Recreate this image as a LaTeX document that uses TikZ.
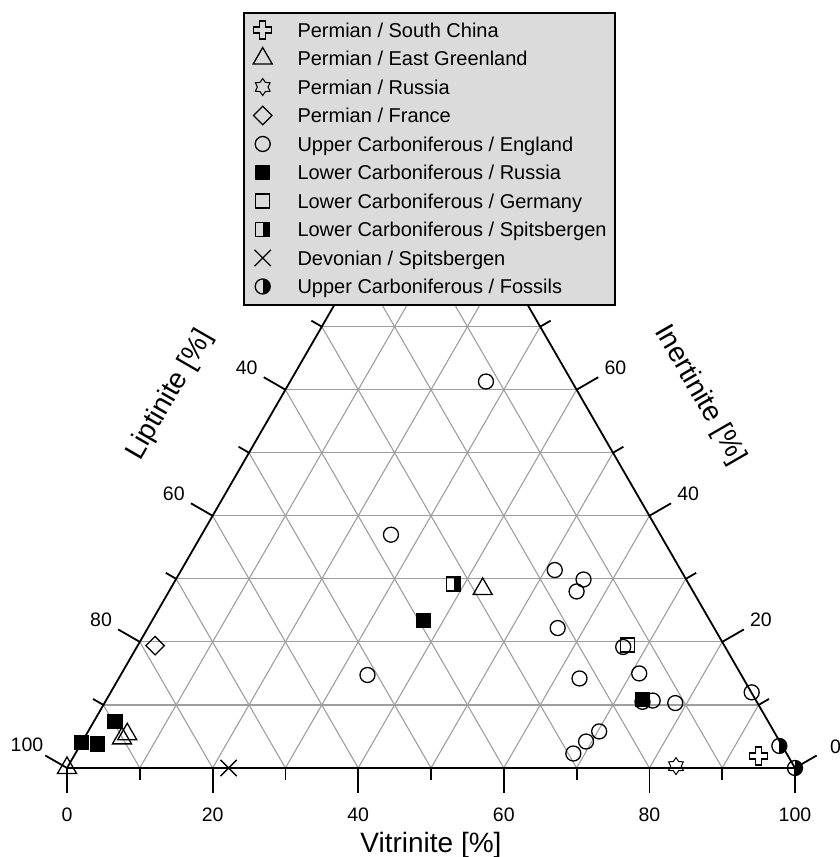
\documentclass[tikz,border=0pt]{standalone}
\usepackage{fontspec}
\setmainfont{Liberation Sans}
\usetikzlibrary{shapes.geometric,shapes.misc}
\begin{document}
\begin{tikzpicture}[x=1pt,y=1pt,line cap=butt,line join=miter]
\tikzset{declare function={tx(\v,\i)=7.28*\v+3.64*\i;ty(\i)=6.3047*\i;},
mk/.style={draw=black,line width=1.3pt,inner sep=0pt},
circ/.style={mk,circle,minimum size=15pt},
sqr/.style={mk,rectangle,minimum size=14pt},
fsqr/.style={sqr,fill=black},
halfsqr/.style={sqr,path picture={\fill (path picture bounding box.north) rectangle (path picture bounding box.south east);}},
halfcirc/.style={circ,path picture={\fill (path picture bounding box.north) rectangle (path picture bounding box.south east);}},
tri/.style={mk,regular polygon,regular polygon sides=3,minimum size=22pt},
dia/.style={mk,diamond,minimum size=19pt},
starmk/.style={mk,star,star points=6,star point ratio=1.6,minimum size=17pt,line width=1pt},
xmk/.style={mk,cross out,minimum size=15pt},
plusmk/.pic={\draw[line width=1.2pt] (-3,-9)--(3,-9)--(3,-3)--(9,-3)--(9,3)--(3,3)--(3,9)--(-3,9)--(-3,3)--(-9,3)--(-9,-3)--(-3,-3)--cycle;},
gridline/.style={black!38,line width=1.1pt},
axis/.style={black,line width=1.8pt},
ticklab/.style={font=\fontsize{19.5}{22}\selectfont,inner sep=0pt},
axtitle/.style={font=\fontsize{28}{32}\selectfont,inner sep=0pt},
legtext/.style={font=\fontsize{20}{24}\selectfont,anchor=base west,inner sep=0pt}
}
\useasboundingbox (-67,-89) rectangle (772,768);
\coordinate (L) at (0,0);
\coordinate (V) at ({tx(100,0)},0);
\coordinate (I) at ({tx(0,100)},{ty(100)});
\foreach \k in {1,...,9}{
  \draw[gridline] ({tx(0,10*\k)},{ty(10*\k)}) -- ({tx(100-10*\k,10*\k)},{ty(10*\k)});
  \draw[gridline] ({tx(10*\k,0)},0) -- ({tx(10*\k,100-10*\k)},{ty(100-10*\k)});
  \draw[gridline] ({tx(10*\k,0)},0) -- ({tx(0,10*\k)},{ty(10*\k)});
}
\draw[axis,line join=round] (L)--(V)--(I)--cycle;
\foreach \k in {0,...,10}{
  \pgfmathsetmacro\len{mod(\k,2)==0 ? 25 : 12}
  \draw[axis] ({tx(10*\k,0)},0) -- ++(0,-\len);
  \draw[axis] ({tx(0,10*\k)},{ty(10*\k)}) -- ++(150:\len);
  \draw[axis] ({tx(100-10*\k,10*\k)},{ty(10*\k)}) -- ++(30:\len);
}
\foreach \k in {0,2,...,10}{
  \pgfmathtruncatemacro\lab{10*\k}
  \node[ticklab,anchor=north] (vlab\k) at ({tx(10*\k,0)},-40) {\lab};
}
\foreach \k in {0,2,4,6}{
  \pgfmathtruncatemacro\lab{100-10*\k}
  \path ({tx(0,10*\k)},{ty(10*\k)}) ++(150:32) node[ticklab,anchor=-30] (llab\k) {\lab};
}
\foreach \k in {2,4,6}{
  \pgfmathtruncatemacro\lab{10*\k}
  \path ({tx(100-10*\k,10*\k)},{ty(10*\k)}) ++(30:32) node[ticklab,anchor=210] (ilab\k) {\lab};
}
\node[ticklab] (ilab0) at (768.5,21) {0};
\node[axtitle,anchor=base] (vtitle) at (364,-84) {Vitrinite [\%]};
\node[axtitle,rotate=60] (ltitle) at (103,373) {Liptinite [\%]};
\node[axtitle,rotate=-60] (ititle) at (633,373) {Inertinite [\%]};
% data
\foreach \v/\i [count=\n] in {26.9/61.3,26.0/37.0,51.3/31.4,56.0/29.9,56.0/28.0,56.3/22.2,66.8/19.2,71.1/15.0,
  73.8/10.5,75.1/10.7,78.4/10.3,63.3/14.2,68.4/2.3,69.2/4.2,70.2/5.8,88.05/12.0,33.9/14.75}
  \node[circ] (eng\n) at ({tx(\v,\i)},{ty(\i)}) {};
\foreach \v/\i [count=\n] in {37.3/23.4,73.6/10.9,2.9/7.4,0/4.0,2.3/3.8}
  \node[fsqr] (rus\n) at ({tx(\v,\i)},{ty(\i)}) {};
\foreach \v/\i [count=\n] in {42.9/28.4,5.2/4.7,5.6/5.35,0/0}
  \node[tri] (grl\n) at ({tx(\v,\i)},{ty(\i)}) {};
\foreach \v/\i [count=\n] in {96.1/3.5,100/0}
  \node[halfcirc] (fos\n) at ({tx(\v,\i)},{ty(\i)}) {};
\node[sqr] (ger1) at ({tx(67.2,19.5)},{ty(19.5)}) {};
\node[dia] (fra1) at ({tx(2.4,19.4)},{ty(19.4)}) {};
\node[halfsqr] (spi1) at ({tx(38.5,29.2)},{ty(29.2)}) {};
\node[xmk] (dev1) at ({tx(22.2,0)},0) {};
\node[starmk] (prus1) at ({tx(83.5,0.3)},{ty(0.3)}) {};
\pic at ({tx(94.0,1.9)},{ty(1.9)}) {plusmk};
% legend
\node[draw=black,line width=1.5pt,fill=black!14,minimum width=371pt,minimum height=292pt] (legend) at (362.5,609) {};
\pic at (195.7,738) {plusmk};
\node[legtext] (leg1) at (230.3,730.8) {Permian / South China};
\foreach \s/\t [count=\r from 2] in {tri/{Permian / East Greenland},starmk/{Permian / Russia},dia/{Permian / France},
  circ/{Upper Carboniferous / England},fsqr/{Lower Carboniferous / Russia},sqr/{Lower Carboniferous / Germany},
  halfsqr/{Lower Carboniferous / Spitsbergen},xmk/{Devonian / Spitsbergen},halfcirc/{Upper Carboniferous / Fossils}}{
  \node[\s] (sym\r) at (195.7,{738-28.5*(\r-1)}) {};
  \node[legtext] (leg\r) at (230.3,{730.8-28.5*(\r-1)}) {\t};
}
\end{tikzpicture}
\end{document}
